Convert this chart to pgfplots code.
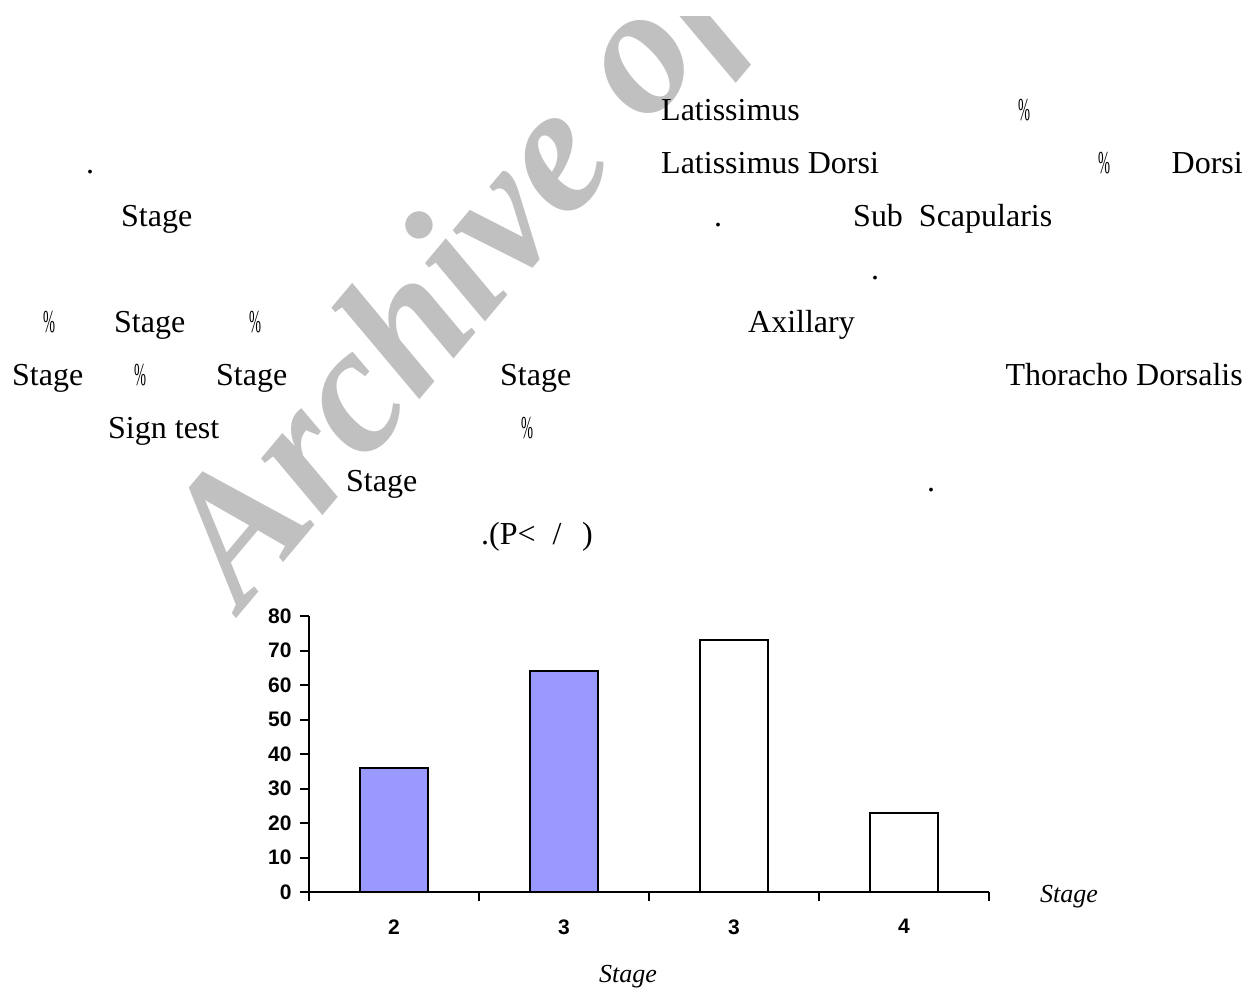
\documentclass[border=0pt]{standalone}
\usepackage{fontspec}
\setmainfont{Liberation Serif}
\newfontfamily\arialfont{Liberation Sans}
\usepackage{graphicx}
\usepackage{pgfplots}
\pgfplotsset{compat=1.18}
\definecolor{barblue}{HTML}{9999FF}
\definecolor{wmgray}{HTML}{C0C0C0}
\newcommand{\pc}{\scalebox{0.45}[1]{\%}}
\begin{document}
\begin{tikzpicture}
\useasboundingbox (0pt,0pt) rectangle (1259pt,-993pt);
% watermark
\begin{scope}
\clip (0pt,-16pt) rectangle (1259pt,-993pt);
\node[rotate=50, anchor=base west, text=wmgray, inner sep=0pt] at (242pt,-612pt)
  {\fontsize{182}{182}\selectfont\bfseries\itshape Archive of SID};
\end{scope}
% body text fragments
\begin{scope}[every node/.style={inner sep=0pt, font=\fontsize{32}{36}\selectfont}]
\node[anchor=base west] at (661pt,-120pt) {Latissimus};
\node[anchor=base] at (1024pt,-120pt) {\pc};
\node[anchor=base] at (90pt,-173pt) {.};
\node[anchor=base west] at (661pt,-173pt) {Latissimus Dorsi};
\node[anchor=base] at (1104pt,-173pt) {\pc};
\node[anchor=base east] at (1243pt,-173pt) {Dorsi};
\node[anchor=base west] at (121pt,-226pt) {Stage};
\node[anchor=base] at (718pt,-226pt) {.};
\node[anchor=base west] at (853pt,-226pt) {Sub\ \ Scapularis};
\node[anchor=base] at (875pt,-279pt) {.};
\node[anchor=base] at (49pt,-332pt) {\pc};
\node[anchor=base west] at (114pt,-332pt) {Stage};
\node[anchor=base] at (255pt,-332pt) {\pc};
\node[anchor=base west] at (748pt,-332pt) {Axillary};
\node[anchor=base west] at (12pt,-385pt) {Stage};
\node[anchor=base] at (140pt,-385pt) {\pc};
\node[anchor=base west] at (216pt,-385pt) {Stage};
\node[anchor=base west] at (500pt,-385pt) {Stage};
\node[anchor=base east] at (1243pt,-385pt) {Thoracho Dorsalis};
\node[anchor=base west] at (108pt,-438pt) {Sign test};
\node[anchor=base] at (527pt,-438pt) {\pc};
\node[anchor=base west] at (346pt,-491pt) {Stage};
\node[anchor=base] at (931pt,-491pt) {.};
\node[anchor=base west] at (481pt,-544pt) {.(P<};
\node[anchor=base] at (557pt,-544pt) {/};
\node[anchor=base east] at (593pt,-544pt) {)};
\end{scope}
% chart
\begin{axis}[
  at={(309pt,-892pt)}, anchor=south west,
  scale only axis, width=680pt, height=276pt,
  xmin=-0.5, xmax=3.5, ymin=0, ymax=80,
  axis x line=bottom, axis y line=left,
  axis line style={-, line width=2pt, black},
  tick style={line width=2pt, black},
  tick align=outside, major tick length=9pt,
  ytick={0,10,...,80},
  xtick={-0.5,0.5,1.5,2.5,3.5}, xticklabels={},
  extra x ticks={0,1,2,3}, extra x tick labels={2,3,3,4},
  extra x tick style={major tick length=0pt, xticklabel style={yshift=-24pt}},
  /pgf/number format/assume math mode=true,
  ticklabel style={font=\arialfont\bfseries\fontsize{21}{21}\selectfont},
  yticklabel style={xshift=-5pt},
  clip=false,
]
\addplot[ybar, bar width=68pt, bar shift=0pt, fill=barblue, draw=black, line width=2pt]
  coordinates {(0,36) (1,64)};
\addplot[ybar, bar width=68pt, bar shift=0pt, fill=white, draw=black, line width=2pt]
  coordinates {(2,73) (3,23)};
\end{axis}
\node[anchor=base, inner sep=0pt, font=\fontsize{26}{30}\selectfont\itshape] at (628pt,-982pt) {Stage};
\node[anchor=base west, inner sep=0pt, font=\fontsize{26}{30}\selectfont\itshape] at (1040pt,-902pt) {Stage};
\end{tikzpicture}
\end{document}
